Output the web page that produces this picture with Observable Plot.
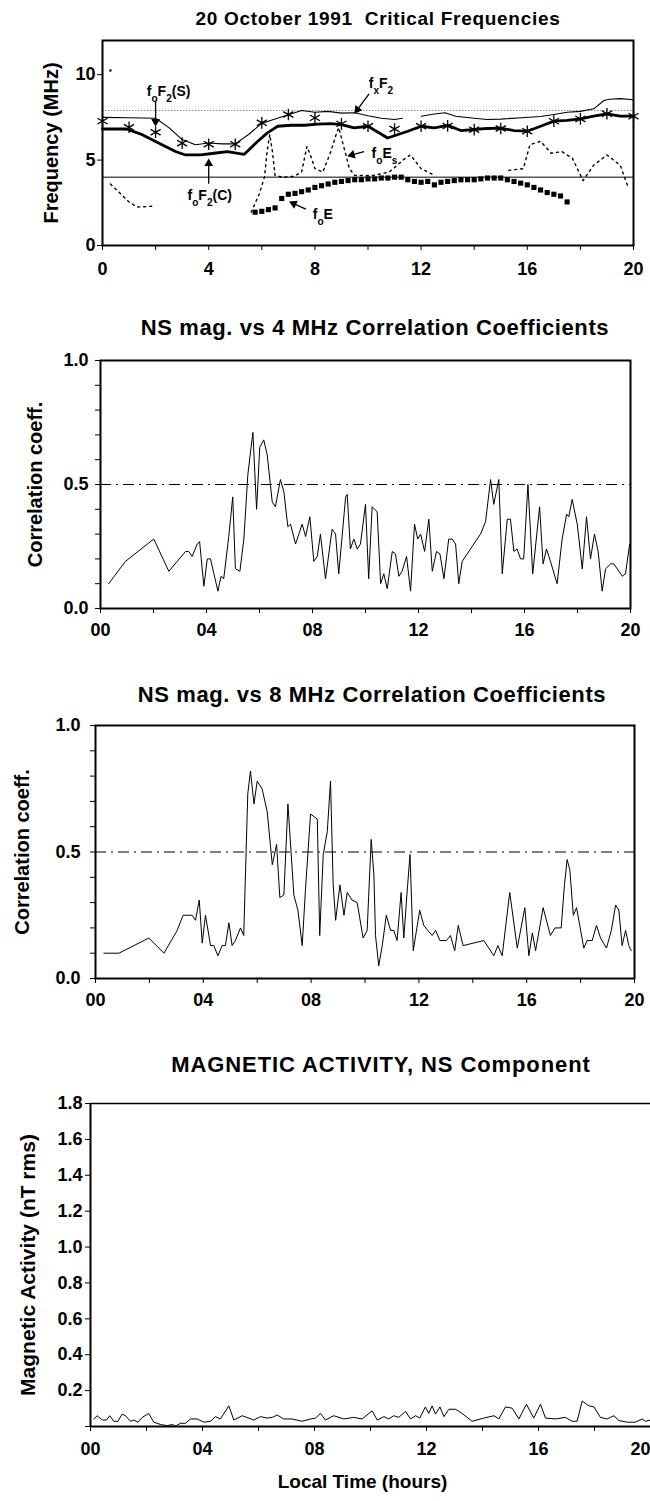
<!DOCTYPE html>
<html><head><meta charset="utf-8">
<script src="https://cdn.jsdelivr.net/npm/d3@7"></script>
<script src="https://cdn.jsdelivr.net/npm/@observablehq/plot@0.6"></script>
<style>
html,body{margin:0;padding:0;background:#fff;overflow:hidden;}
#root{position:relative;width:650px;height:1501px;font-family:"Liberation Sans",Arial,Helvetica,sans-serif;color:#000;}
.title{position:absolute;left:0;width:650px;text-align:center;font-weight:bold;white-space:pre;transform:translateY(-50%);}
.panel{position:absolute;left:0;}
</style></head><body><div id="root"></div>
<script>
// ---------- tick arrays ----------
const hourTicks = [0,2,4,6,8,10,12,14,16,18,20];
const hourTickLabels1 = ["0","","4","","8","","12","","16","","20"];
const hourTickLabels = ["00","","04","","08","","12","","16","","20"];
const hourTicksNoEnd = [0,2,4,6,8,10,12,14,16,18];
const endHourTick = [20];
const freqTicks = [0,5,10];
const corrTicks = [0,0.1,0.2,0.3,0.4,0.5,0.6,0.7,0.8,0.9,1.0];
const corrTickLabels = ["0.0","","","","","0.5","","","","","1.0"];
const magTicks = [0,0.2,0.4,0.6,0.8,1.0,1.2,1.4,1.6,1.8];
const magTickLabels = ["","0.2","0.4","0.6","0.8","1.0","1.2","1.4","1.6","1.8"];

// ---------- panel 1: critical frequencies ----------
const foF2SHours = [0,1,2,3,4,5,6,7,8,9,10,11,12,13,14,15,16,17,18,19,20];
const foF2SValues = [7.28,6.92,6.63,5.99,5.93,5.93,7.18,7.67,7.47,7.12,6.98,6.82,6.98,7.0,6.78,6.85,6.69,7.28,7.41,7.71,7.57];

const foF2CHours = [0,0.9,1.5,2.13,2.75,3.1,3.7,4.2,4.7,5.34,5.84,6.21,6.6,7.1,7.6,8.1,8.6,9.0,9.48,10.0,10.74,11.5,12.0,12.5,13.0,13.5,14.0,14.5,15.0,15.5,16.0,16.5,17.0,17.5,18.0,18.5,19.0,19.5,20.0];
const foF2CValues = [6.82,6.82,6.49,5.99,5.5,5.31,5.31,5.4,5.5,5.34,6.09,6.59,6.98,7.04,7.04,7.1,7.14,7.08,6.88,6.98,6.29,6.69,6.98,6.88,7.03,6.73,6.79,6.85,6.87,6.73,6.69,6.98,7.28,7.32,7.41,7.57,7.71,7.57,7.57];

const fxF2Hours = [0,1,2,2.5,3,3.5,4,4.5,5,5.5,6,6.5,7,7.5,8,8.5,9,9.5,10,10.5,11,11.3,11.6,12,12.5,12.9,13.3,14,14.5,15,15.8,16.5,17,17.5,18,18.5,18.9,19.1,19.5,20];
const fxF2Values = [7.5,7.48,7.45,6.9,6.2,5.9,6.0,5.95,5.95,6.5,7.15,7.4,7.65,7.9,7.8,7.85,7.75,7.77,7.6,7.45,7.38,7.45,NaN,7.57,7.7,7.77,7.57,7.45,7.38,7.4,7.48,7.55,7.67,7.8,7.85,8.0,8.5,8.56,8.6,8.53];

const foEsHours = [0.3,0.7,1.0,1.3,1.9,3.0,5.6,5.9,6.1,6.2,6.3,6.4,6.5,6.8,7.2,7.5,7.7,7.9,8.0,8.3,8.6,8.8,8.9,9.1,9.3,9.5,10.2,10.8,11.4,11.6,12.0,12.5,14.0,15.3,15.85,16.1,16.5,16.9,17.3,17.7,18.1,18.5,19.0,19.5,19.8];
const foEsValues = [3.6,3.0,2.55,2.25,2.3,NaN,1.95,3.0,4.0,5.5,6.5,5.5,4.1,4.0,4.05,4.3,5.8,5.0,4.5,4.3,5.5,6.5,6.9,5.7,4.5,4.1,4.1,4.3,5.1,5.3,4.5,4.1,NaN,4.4,4.5,5.9,6.1,5.4,5.5,5.1,3.8,4.7,5.3,4.7,3.4];

const foEHours = [5.75,6.0,6.25,6.5,6.75,7.0,7.25,7.5,7.75,8.0,8.25,8.5,8.75,9.0,9.25,9.5,9.75,10.0,10.25,10.5,10.75,11.0,11.25,11.5,11.75,12.0,12.25,12.5,12.75,13.0,13.25,13.5,13.75,14.0,14.25,14.5,14.75,15.0,15.25,15.5,15.75,16.0,16.25,16.5,16.75,17.0,17.25,17.5];
const foEValues = [1.95,2.0,2.1,2.2,2.75,3.0,3.05,3.15,3.25,3.4,3.5,3.6,3.7,3.75,3.8,3.85,3.85,3.9,3.9,3.95,3.95,4.0,4.0,3.85,3.75,3.7,3.75,3.55,3.7,3.75,3.8,3.85,3.85,3.85,3.9,3.95,3.95,3.95,3.85,3.75,3.65,3.55,3.4,3.25,3.1,3.0,2.9,2.55];

const strayHour = [0.3];
const strayValue = [10.24];
const refLineFreq = [4.0];
const dottedLineFreq = [7.9];

const annLabels = ["f_oF_2(S)","f_oF_2(C)","f_xF_2","f_oE_s","f_oE"];
const annLabelHour = [2.49,4.04,10.49,10.62,8.3];
const annLabelFreq = [8.99,2.9,9.47,5.38,1.83];
const annFromHour = [2.0,4.0,10.04,9.85,7.66];
const annFromFreq = [8.46,3.61,8.88,5.5,2.13];
const annToHour = [2.0,4.0,9.6,9.4,7.2];
const annToFreq = [7.25,4.8,7.95,5.3,2.45];

// ---------- panel 2: 4 MHz correlation ----------
const c4Hours = [0.31,0.94,2.01,2.58,3.21,3.33,3.46,3.65,3.74,3.9,4.03,4.15,4.28,4.43,4.55,4.65,4.84,4.99,5.09,5.26,5.41,5.56,5.75,5.89,6.01,6.16,6.29,6.48,6.6,6.79,6.92,7.07,7.17,7.36,7.61,7.74,7.9,8.05,8.18,8.3,8.49,8.74,8.87,8.99,9.25,9.31,9.43,9.56,9.69,9.81,10.0,10.12,10.25,10.44,10.57,10.69,10.82,11.01,11.13,11.26,11.38,11.55,11.7,11.85,11.97,12.08,12.23,12.39,12.52,12.68,12.81,12.96,13.14,13.27,13.4,13.52,13.65,13.96,14.34,14.53,14.72,14.84,15.03,15.16,15.35,15.47,15.6,15.72,15.85,15.97,16.13,16.31,16.57,16.7,16.83,16.98,17.23,17.42,17.59,17.67,17.8,17.99,18.18,18.34,18.49,18.64,18.78,18.93,19.06,19.25,19.37,19.69,19.81,19.97];
const c4Values = [0.10,0.19,0.28,0.15,0.23,0.23,0.21,0.26,0.27,0.09,0.20,0.20,0.14,0.07,0.13,0.12,0.29,0.45,0.16,0.15,0.28,0.54,0.71,0.40,0.65,0.68,0.62,0.43,0.41,0.52,0.47,0.33,0.34,0.26,0.34,0.29,0.37,0.19,0.21,0.30,0.12,0.32,0.30,0.14,0.45,0.46,0.24,0.28,0.24,0.26,0.42,0.12,0.41,0.39,0.10,0.14,0.08,0.23,0.22,0.13,0.15,0.21,0.07,0.34,0.28,0.30,0.23,0.36,0.15,0.23,0.22,0.12,0.28,0.28,0.26,0.10,0.19,0.24,0.30,0.35,0.52,0.42,0.52,0.14,0.36,0.36,0.23,0.24,0.20,0.20,0.50,0.14,0.41,0.18,0.24,0.19,0.10,0.28,0.38,0.37,0.44,0.34,0.16,0.37,0.20,0.30,0.23,0.07,0.16,0.18,0.18,0.13,0.14,0.26];

// ---------- panel 3: 8 MHz correlation ----------
const c8Hours = [0.31,0.87,1.98,2.54,3.03,3.25,3.4,3.59,3.71,3.85,3.96,4.08,4.27,4.39,4.54,4.7,4.82,4.95,5.07,5.19,5.38,5.5,5.65,5.75,5.88,6.0,6.18,6.37,6.56,6.72,6.84,6.99,7.14,7.36,7.51,7.67,7.79,7.98,8.23,8.32,8.45,8.6,8.72,8.82,8.91,9.07,9.22,9.34,9.52,9.71,9.93,10.08,10.23,10.33,10.39,10.51,10.64,10.79,10.95,11.07,11.19,11.34,11.44,11.54,11.67,11.79,12.03,12.18,12.33,12.49,12.62,12.78,12.93,13.02,13.17,13.33,13.46,13.64,14.41,14.78,14.93,15.09,15.37,15.65,15.93,16.08,16.21,16.33,16.61,16.88,17.05,17.28,17.4,17.5,17.6,17.73,17.85,18.12,18.24,18.43,18.59,18.74,18.96,19.14,19.3,19.42,19.54,19.67,19.79,19.88];
const c8Values = [0.10,0.10,0.16,0.10,0.19,0.25,0.25,0.25,0.23,0.31,0.14,0.25,0.13,0.13,0.09,0.13,0.13,0.22,0.13,0.15,0.20,0.17,0.73,0.82,0.69,0.78,0.75,0.66,0.45,0.53,0.32,0.33,0.69,0.33,0.27,0.13,0.35,0.65,0.63,0.17,0.49,0.58,0.78,0.37,0.23,0.37,0.25,0.34,0.31,0.30,0.16,0.19,0.55,0.41,0.17,0.05,0.13,0.25,0.19,0.19,0.15,0.34,0.16,0.31,0.49,0.11,0.27,0.21,0.19,0.17,0.19,0.15,0.15,0.15,0.17,0.11,0.21,0.13,0.15,0.09,0.13,0.09,0.34,0.12,0.28,0.09,0.18,0.11,0.28,0.17,0.20,0.20,0.37,0.47,0.43,0.25,0.28,0.12,0.15,0.15,0.21,0.16,0.12,0.19,0.29,0.27,0.13,0.19,0.13,0.11];

// ---------- panel 4: magnetic activity ----------
const magHours = [0.12,0.24,0.42,0.57,0.69,0.83,0.98,1.13,1.25,1.43,1.55,1.69,1.85,2.08,2.26,2.5,2.74,2.92,3.04,3.21,3.39,3.57,3.81,4.05,4.29,4.46,4.64,4.94,5.12,5.42,5.83,6.07,6.31,6.49,6.67,6.9,7.2,7.56,7.86,8.04,8.21,8.39,8.57,8.69,9.05,9.4,9.7,10.06,10.24,10.48,10.65,10.83,11.01,11.25,11.43,11.61,11.76,11.96,12.08,12.2,12.32,12.48,12.62,12.8,13.04,13.27,13.63,14.05,14.41,14.58,14.82,15.06,15.3,15.57,15.83,16.07,16.25,16.61,16.96,17.2,17.38,17.56,17.8,17.98,18.21,18.45,18.69,18.87,19.17,19.46,19.7,19.82,20.0];
const magValues = [0.042,0.06,0.036,0.036,0.06,0.029,0.029,0.069,0.06,0.029,0.036,0.024,0.051,0.073,0.024,0.011,0.005,0.011,0.002,0.018,0.018,0.042,0.042,0.024,0.029,0.055,0.042,0.115,0.036,0.06,0.036,0.055,0.047,0.051,0.064,0.042,0.042,0.029,0.042,0.047,0.073,0.036,0.051,0.06,0.042,0.051,0.042,0.087,0.036,0.055,0.042,0.06,0.051,0.084,0.042,0.06,0.047,0.109,0.073,0.115,0.069,0.109,0.055,0.096,0.096,0.073,0.029,0.047,0.06,0.042,0.109,0.102,0.042,0.124,0.047,0.124,0.047,0.042,0.051,0.029,0.029,0.142,0.115,0.109,0.051,0.042,0.06,0.033,0.024,0.024,0.042,0.029,0.036];

// ---------- helpers ----------
const FONT = "'Liberation Sans', Arial, Helvetica, sans-serif";
const root = document.getElementById("root");
const zip = (xs, ys) => xs.map((x, i) => ({x, y: ys[i]}));
const lab = (ticks, labels) => d => labels[ticks.indexOf(d)] ?? "";
const baseStyle = {fontFamily: FONT, fontSize: "18px", fontWeight: "bold", color: "black", background: "white", overflow: "hidden"};

function addTitle(text, cx, cy, size, ls) {
  const d = document.createElement("div");
  d.className = "title";
  d.textContent = text;
  d.style.left = (cx - 325) + "px";
  d.style.top = cy + "px";
  d.style.fontSize = size + "px";
  d.style.letterSpacing = ls + "px";
  root.appendChild(d);
}
function place(svg, top) {
  const d = document.createElement("div");
  d.className = "panel";
  d.style.top = top + "px";
  d.appendChild(svg);
  root.appendChild(d);
}
function subscripts(svg) {
  svg.querySelectorAll("text").forEach(t => {
    const s = t.textContent;
    if (!s.includes("_")) return;
    t.textContent = "";
    s.split(/(_.)/).forEach(p => {
      if (!p) return;
      const ts = document.createElementNS("http://www.w3.org/2000/svg", "tspan");
      if (p[0] === "_") {
        ts.textContent = p[1];
        ts.setAttribute("font-size", "72%");
        ts.setAttribute("baseline-shift", "sub");
      } else ts.textContent = p;
      t.appendChild(ts);
    });
  });
}

// ---------- Panel 1 ----------
addTitle("20 October 1991  Critical Frequencies", 378, 19, 19, 0.7);
const ann = annLabels.map((l, i) => ({l, lx: annLabelHour[i], ly: annLabelFreq[i], x1: annFromHour[i], y1: annFromFreq[i], x2: annToHour[i], y2: annToFreq[i], a: 0}));
function panel1() {
  return Plot.plot({
    width: 650, height: 260,
    marginTop: 10, marginBottom: 45, marginLeft: 102, marginRight: 17,
    x: {domain: [0, 20]}, y: {domain: [0, 12]},
    style: baseStyle,
    marks: [
      Plot.ruleY(dottedLineFreq, {stroke: "#888", strokeWidth: 1, strokeDasharray: "1.5,1.5"}),
      Plot.ruleY(refLineFreq, {stroke: "black", strokeWidth: 1}),
      Plot.line(zip(foEsHours, foEsValues), {x: "x", y: "y", stroke: "black", strokeWidth: 1.4, strokeDasharray: "2,4"}),
      Plot.line(zip(fxF2Hours, fxF2Values), {x: "x", y: "y", stroke: "black", strokeWidth: 1.1}),
      Plot.line(zip(foF2CHours, foF2CValues), {x: "x", y: "y", stroke: "black", strokeWidth: 2.8}),
      Plot.dot(zip(foF2SHours, foF2SValues), {x: "x", y: "y", symbol: "asterisk", r: 5.5, stroke: "black", strokeWidth: 1.3}),
      Plot.dot(zip(foEHours, foEValues), {x: "x", y: "y", symbol: "square", r: 2.9, fill: "black", stroke: "none"}),
      Plot.dot(zip(strayHour, strayValue), {x: "x", y: "y", r: 1.2, fill: "black", stroke: "none"}),
      Plot.link(ann, {x1: "x1", y1: "y1", x2: "x2", y2: "y2", stroke: "black", strokeWidth: 1.3}),
      Plot.dot(ann, {x: "x2", y: "y2", symbol: "triangle2", r: 4.2, fill: "black", stroke: "none", rotate: "a"}),
      Plot.text(ann, {x: "lx", y: "ly", text: "l", fontSize: 14, fontWeight: "bold", textAnchor: "middle"}),
      Plot.frame({stroke: "black", strokeWidth: 2}),
      Plot.axisX({ticks: hourTicks, tickFormat: lab(hourTicks, hourTickLabels1), tickSize: 5, tickPadding: 12, label: null}),
      Plot.axisY({ticks: freqTicks, tickFormat: d => String(d), tickSize: 5, tickPadding: 2, label: null}),
      Plot.text(["Frequency (MHz)"], {frameAnchor: "left", dx: -51, rotate: -90, textAnchor: "middle", fontSize: 20, fontWeight: "bold"})
    ]
  });
}
let p1 = panel1();
{
  const sx = p1.scale("x"), sy = p1.scale("y");
  ann.forEach(d => {
    const dx = sx.apply(d.x2) - sx.apply(d.x1);
    const dy = sy.apply(d.y2) - sy.apply(d.y1);
    d.a = Math.atan2(dx, -dy) * 180 / Math.PI;
  });
}
p1 = panel1();
subscripts(p1);
place(p1, 30);

// ---------- Panels 2 & 3 ----------
function corrPanel(hours, values, top, mLeft, mRight, frameTop, frameBottom, height, yTickPad, yLabelDx) {
  return Plot.plot({
    width: 650, height,
    marginTop: frameTop - top, marginBottom: top + height - frameBottom,
    marginLeft: mLeft, marginRight: mRight,
    x: {domain: [0, 20]}, y: {domain: [0, 1]},
    style: baseStyle,
    marks: [
      Plot.ruleY([0.5], {stroke: "black", strokeWidth: 1.2, strokeDasharray: "11,5,2,5"}),
      Plot.line(zip(hours, values), {x: "x", y: "y", stroke: "black", strokeWidth: 1}),
      Plot.frame({stroke: "black", strokeWidth: 2}),
      Plot.axisX({ticks: hourTicks, tickFormat: lab(hourTicks, hourTickLabels), tickSize: 5, tickPadding: 10, label: null}),
      Plot.axisY({ticks: corrTicks, tickFormat: lab(corrTicks, corrTickLabels), tickSize: 5, tickPadding: yTickPad, label: null}),
      Plot.text(["Correlation coeff."], {frameAnchor: "left", dx: yLabelDx, rotate: -90, textAnchor: "middle", fontSize: 20, fontWeight: "bold"})
    ]
  });
}
addTitle("NS mag. vs 4 MHz Correlation Coefficients", 375, 328, 22, 0.6);
place(corrPanel(c4Hours, c4Values, 345, 100, 20, 360, 608, 300, 7, -65), 345);

addTitle("NS mag. vs 8 MHz Correlation Coefficients", 372, 695, 22, 0.6);
place(corrPanel(c8Hours, c8Values, 710, 95, 16, 725, 978, 305, 10, -73), 710);

// ---------- Panel 4 ----------
addTitle("MAGNETIC ACTIVITY, NS Component", 381, 1065, 22, 0.9);
const p4 = Plot.plot({
  width: 650, height: 411,
  marginTop: 13, marginBottom: 75, marginLeft: 90, marginRight: 0,
  x: {domain: [0, 20]}, y: {domain: [0, 1.8]},
  style: baseStyle,
  marks: [
    Plot.ruleX([20], {stroke: "#bbb", strokeWidth: 1, strokeDasharray: "3,3"}),
    Plot.line(zip(magHours, magValues), {x: "x", y: "y", stroke: "black", strokeWidth: 1}),
    Plot.ruleY([1.8], {stroke: "black", strokeWidth: 1.6}),
    Plot.ruleY([0], {stroke: "black", strokeWidth: 2}),
    Plot.ruleX([0], {stroke: "black", strokeWidth: 2}),
    Plot.axisX({ticks: hourTicksNoEnd, tickFormat: lab(hourTicks, hourTickLabels), tickSize: 5, tickPadding: 11, label: null}),
    Plot.axisX({ticks: endHourTick, tickFormat: lab(hourTicks, hourTickLabels), tickSize: 5, tickPadding: 11, textAnchor: "end", label: null}),
    Plot.axisY({ticks: magTicks, tickFormat: lab(magTicks, magTickLabels), tickSize: 5, tickPadding: 3, label: null}),
    Plot.text(["Magnetic Activity (nT rms)"], {frameAnchor: "left", dx: -62, rotate: -90, textAnchor: "middle", fontSize: 21, fontWeight: "bold"}),
    Plot.text(["Local Time (hours)"], {frameAnchor: "bottom", dy: 61, dx: -8, fontSize: 19, fontWeight: "bold"})
  ]
});
place(p4, 1090);
</script></body></html>
